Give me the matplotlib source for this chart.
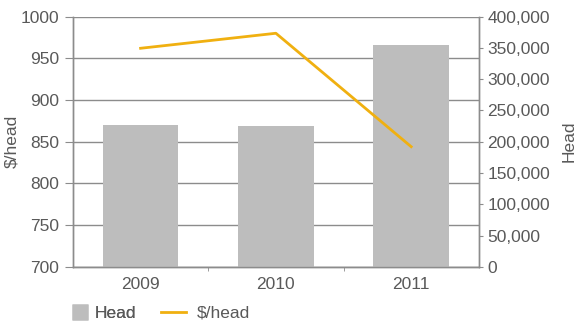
import numpy as np
import matplotlib.pyplot as plt
from matplotlib.ticker import FuncFormatter
from matplotlib.lines import Line2D

plt.rcParams['font.family'] = ['Liberation Sans', 'DejaVu Sans']

# Daten
years = ['2009', '2010', '2011']
head = [227000, 225000, 355000]          # Anzahl Tiere (rechte Achse)
dollar_per_head = [962, 980, 844]        # $/head (linke Achse)

grau_text = '#595959'
grau_linie = '#8c8c8c'
balken_farbe = '#bdbdbd'
linien_farbe = '#f0b010'

fig = plt.figure(figsize=(5.79, 3.25), dpi=100)
ax = fig.add_axes([0.126, 0.179, 0.701, 0.770])   # $/head-Achse mit Gitter
ax_bar = ax.twinx()                                # Balken (Head)
ax_line = ax.twinx()                               # Linie ($/head), ganz oben

x = np.arange(len(years))

# linke Achse + Gitter (unterste Ebene)
ax.set_ylim(700, 1000)
ax.set_yticks(np.arange(700, 1001, 50))
ax.grid(axis='y', color=grau_linie, linewidth=1.0)
ax.set_ylabel(r'\$/head', fontsize=12.5, color=grau_text)
ax.yaxis.set_label_coords(-0.133, 0.5)

# Balken auf der Head-Achse
ax_bar.bar(x, head, width=0.56, color=balken_farbe)
ax_bar.set_ylim(0, 400000)
ax_bar.set_yticks(np.arange(0, 400001, 50000))
ax_bar.yaxis.set_major_formatter(FuncFormatter(lambda v, p: f"{int(v):,}"))
ax_bar.set_ylabel('Head', fontsize=12.5, color=grau_text)
ax_bar.yaxis.set_label_coords(1.205, 0.5)

# Linie mit derselben Skala wie links
ax_line.plot(x, dollar_per_head, color=linien_farbe, linewidth=2.0)
ax_line.set_ylim(700, 1000)
ax_line.axis('off')

ax.set_xlim(-0.5, 2.5)
ax.set_xticks(x)
ax.set_xticklabels(years)
ax.set_xticks([0.5, 1.5], minor=True)
ax.tick_params(axis='x', which='major', length=0, labelsize=12.5,
               colors=grau_text, pad=7)
ax.tick_params(axis='x', which='minor', length=3, color=grau_linie)
ax.tick_params(axis='y', length=6, labelsize=12.5, colors=grau_text,
               color=grau_linie, pad=4)
ax_bar.tick_params(axis='y', length=3, labelsize=12.5, colors=grau_text,
                   color=grau_linie, pad=3)

for a in (ax, ax_bar):
    a.spines['top'].set_visible(False)
    for s in ('left', 'right', 'bottom'):
        a.spines[s].set_color(grau_linie)
        a.spines[s].set_linewidth(1.0)

# Legende unten (zwei Teile, eigene Abstände)
h_bar = Line2D([], [], marker='s', linestyle='none', markersize=11,
               markerfacecolor=balken_farbe, markeredgecolor='none')
h_line = Line2D([], [], color=linien_farbe, linewidth=2.0)
leg1 = fig.legend([h_bar], ['Head'], loc='lower left',
                  bbox_to_anchor=(0.096, -0.035), frameon=False,
                  fontsize=12.5, labelcolor=grau_text, handlelength=1.0,
                  handletextpad=0.35)
fig.add_artist(leg1)
fig.legend([h_line], ['$/head'], loc='lower left',
           bbox_to_anchor=(0.251, -0.035), frameon=False,
           fontsize=12.5, labelcolor=grau_text, handlelength=1.45,
           handletextpad=0.6)

fig.savefig('out.png', dpi=100)
